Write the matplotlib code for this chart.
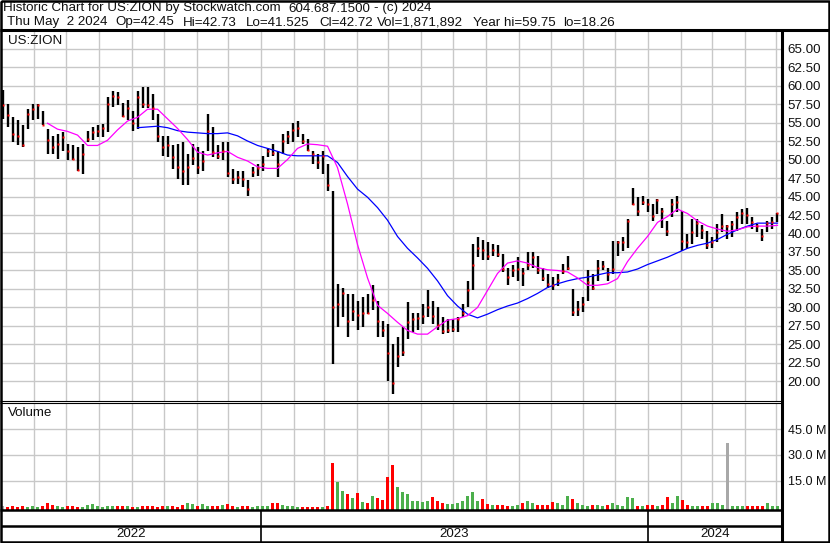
import numpy as np
import pandas as pd
import matplotlib
matplotlib.use("Agg")
import matplotlib.pyplot as plt
import matplotlib.dates as mdates
from matplotlib.ticker import FixedLocator, FuncFormatter

plt.rcParams['font.family'] = ['Liberation Sans', 'DejaVu Sans']

nan = np.nan

symbol = "US:ZION"
# header pieces and their left edges (px) as laid out on the original chart
header_1 = [("Historic Chart for US:ZION by Stockwatch.com", 3), ("604.687.1500", 288), ("- (c) 2024", 374)]
header_2 = [("Thu May  2 2024", 7), ("Op=42.45", 115), ("Hi=42.73", 183), ("Lo=41.525", 246),
            ("Cl=42.72", 319), ("Vol=1,871,892", 377), ("Year hi=59.75", 473), ("lo=18.26", 563)]

# price bars, roughly one bar per 3 trading days, May 2 2022 -> May 2 2024
high = [59.4, 57.5, 55.7, 55.3, 54.6, 56.8, 57.5, 57.5, 56.6, 54.1,
        53.2, 53.5, 53.7, 52.1, 51.9, 51.7, 52.1, 53.9, 54.4, 54.6,
        54.8, 58.5, 59.3, 59.1, 57.7, 58.0, 56.6, 59.3, 59.8, 59.75,
        58.9, 56.2, 53.2, 53.2, 51.9, 52.1, 52.3, 50.8, 52.1, 51.7,
        51.2, 56.2, 54.4, 51.9, 52.3, 52.3, 48.7, 48.5, 48.5, 47.2,
        49.0, 49.4, 50.5, 51.6, 52.1, 51.2, 53.4, 53.9, 55.0, 55.2,
        53.4, 52.8, 51.2, 50.7, 51.2, 49.4, 45.8, 33.2, 32.7, 31.8,
        31.8, 30.9, 31.4, 31.8, 33.0, 30.9, 28.2, 27.8, 25.1, 26.0,
        27.3, 30.7, 29.2, 29.2, 30.5, 32.3, 30.9, 30.0, 28.7, 28.5,
        28.5, 28.7, 30.5, 33.6, 38.6, 39.5, 39.1, 38.8, 38.6, 38.4,
        37.2, 35.4, 35.7, 36.8, 35.4, 37.5, 37.5, 37.0, 35.4, 34.5,
        34.1, 34.5, 35.9, 37.0, 32.5, 30.9, 31.4, 35.0, 34.5, 36.4,
        36.3, 35.4, 39.0, 39.0, 39.5, 42.0, 46.2, 44.9, 45.1, 44.7,
        44.0, 44.7, 43.5, 41.7, 44.7, 45.1, 43.1, 39.9, 42.0, 42.0,
        41.1, 40.4, 39.5, 41.3, 42.6, 41.1, 41.7, 42.9, 43.3, 43.5,
        42.2, 41.3, 40.6, 41.7, 42.2, 42.73]
low = [55.5, 54.4, 52.3, 51.9, 51.7, 54.1, 55.3, 55.5, 54.6, 50.8,
       50.8, 50.1, 51.2, 49.9, 49.9, 48.5, 48.1, 52.3, 52.6, 53.0,
       53.0, 53.7, 57.1, 57.3, 55.7, 55.3, 53.9, 54.1, 57.0, 57.0,
       55.3, 52.3, 50.5, 50.3, 48.7, 47.4, 46.5, 46.5, 49.2, 48.1,
       48.5, 51.2, 50.3, 50.1, 49.9, 47.6, 46.7, 46.7, 46.3, 45.1,
       47.6, 47.8, 48.5, 50.3, 50.5, 47.6, 50.7, 52.1, 52.3, 53.0,
       52.1, 51.2, 49.4, 48.7, 48.0, 45.8, 22.4, 27.3, 28.7, 26.0,
       28.2, 26.9, 27.3, 29.1, 29.6, 26.0, 26.0, 20.1, 18.26, 21.9,
       23.5, 25.8, 26.7, 26.9, 27.8, 28.7, 27.8, 26.9, 26.4, 26.5,
       26.7, 26.7, 28.7, 30.0, 32.3, 36.8, 36.4, 36.4, 37.0, 36.8,
       34.8, 33.0, 34.1, 33.6, 32.9, 35.0, 35.4, 34.5, 33.6, 32.7,
       32.3, 32.9, 34.5, 35.0, 28.9, 28.9, 29.4, 30.9, 32.3, 33.6,
       35.0, 33.6, 34.5, 37.0, 37.7, 38.0, 43.8, 42.4, 43.8, 42.9,
       41.7, 42.6, 40.8, 39.7, 42.2, 42.9, 37.7, 37.9, 38.6, 39.5,
       39.3, 37.9, 38.1, 38.8, 40.2, 39.3, 39.5, 40.4, 41.3, 41.3,
       40.6, 40.2, 39.0, 40.2, 40.6, 41.525]
close = [57.4, 56.0, 53.5, 53.2, 52.0, 56.2, 56.8, 57.3, 54.7, 52.7,
         51.7, 52.1, 53.0, 51.2, 50.1, 48.6, 50.8, 52.8, 53.7, 53.9,
         54.2, 57.5, 58.6, 58.4, 55.9, 57.0, 55.0, 58.5, 57.5, 57.3,
         57.0, 53.2, 51.7, 52.0, 50.3, 49.0, 48.5, 49.0, 50.2, 49.0,
         49.8, 53.9, 51.0, 50.5, 51.2, 48.2, 47.4, 47.6, 47.4, 46.0,
         48.3, 48.8, 49.4, 51.1, 50.9, 49.4, 52.5, 53.2, 54.0, 54.3,
         52.5, 51.3, 50.8, 49.6, 50.5, 46.5, 30.0, 30.5, 32.0, 28.2,
         29.5, 29.0, 29.3, 29.2, 31.0, 28.2, 27.0, 23.8, 19.8, 23.5,
         24.0, 28.0, 28.4, 28.6, 28.9, 30.0, 28.9, 27.6, 26.8, 27.0,
         27.1, 28.5, 29.2, 32.3, 35.7, 38.0, 37.8, 37.0, 37.8, 37.2,
         35.2, 34.1, 35.0, 35.2, 34.7, 35.8, 36.8, 35.0, 34.0, 33.2,
         33.0, 33.7, 34.9, 35.4, 29.4, 29.8, 30.5, 33.5, 32.6, 35.3,
         35.6, 34.5, 35.2, 38.8, 38.9, 41.7, 44.0, 43.1, 44.2, 44.0,
         42.4, 44.5, 43.1, 40.4, 44.0, 44.2, 39.0, 38.8, 40.2, 41.4,
         40.5, 38.4, 38.9, 40.2, 41.0, 41.0, 41.3, 42.2, 42.8, 42.5,
         41.5, 41.0, 39.6, 41.4, 41.6, 42.72]
# volume in millions, per bar
volume = [2.0, 1.5, 1.8, 1.6, 2.2, 1.7, 2.0, 1.5, 1.8, 3.5,
          2.5, 2.0, 1.6, 1.8, 2.2, 1.5, 1.7, 2.6, 3.0, 2.0,
          1.5, 1.8, 2.0, 1.9, 2.2, 2.0, 1.7, 1.6, 1.8, 2.0,
          2.2, 1.6, 1.8, 2.0, 1.9, 1.5, 2.5, 4.0, 3.0, 2.0,
          3.0, 2.2, 2.0, 1.8, 2.5, 3.0, 2.0, 1.6, 1.8, 2.0,
          1.7, 1.8, 1.8, 2.0, 3.5, 4.0, 2.5, 1.8, 2.0, 1.6,
          1.5, 1.2, 1.3, 1.5, 1.5, 2.0, 27.0, 16.0, 10.5, 9.0,
          6.5, 9.5, 4.5, 4.0, 8.0, 6.5, 5.5, 19.0, 26.0, 13.0,
          10.0, 9.0, 5.0, 5.0, 4.5, 5.0, 7.0, 5.0, 3.5, 3.0,
          3.0, 4.0, 5.0, 8.0, 10.0, 5.0, 6.0, 3.0, 2.7, 2.5,
          2.7, 2.2, 2.2, 2.7, 4.0, 5.0, 4.0, 2.7, 2.5, 2.7,
          4.5, 3.5, 2.7, 8.0, 6.0, 3.5, 2.7, 2.2, 2.7, 2.5,
          2.0, 2.5, 4.0, 2.5, 2.0, 7.0, 6.5, 2.0, 1.8, 2.5,
          2.7, 2.0, 2.5, 7.0, 3.5, 8.0, 5.5, 2.7, 2.3, 2.0,
          2.3, 2.0, 3.5, 3.5, 2.7, 38.7, 2.0, 2.0, 2.0, 2.0,
          2.3, 2.0, 2.3, 3.5, 2.3, 2.2]
# moving averages, read at every second bar (bars 1, 3, 5, ...)
ma_pink = [nan, nan, nan, nan, 54.9, 54.1, 53.8, 53.3, 51.9, 51.9,
           52.6, 54.0, 55.2, 55.7, 56.8, 56.8, 55.5, 54.2, 52.7, 51.0,
           50.6, 50.9, 51.1, 50.3, 49.8, 49.0, 48.8, 48.8, 50.0, 51.5,
           52.1, 52.0, 51.8, 48.9, 44.0, 38.5, 34.0, 30.3, 29.2, 28.0,
           26.9, 26.4, 26.4, 27.4, 28.3, 28.5, 28.9, 30.0, 32.3, 34.6,
           36.0, 36.3, 36.0, 35.4, 35.1, 35.0, 34.8, 34.0, 33.0, 33.0,
           33.2, 33.9, 36.2, 38.0, 39.6, 41.5, 42.3, 43.3, 42.7, 41.7,
           41.0, 40.6, 40.3, 40.5, 40.9, 41.0, 41.0, 41.1]
ma_blue = [nan, nan, nan, nan, nan, nan, nan, nan, nan, nan,
           nan, nan, nan, 54.3, 54.4, 54.5, 54.3, 53.9, 53.7, 53.6,
           53.5, 53.5, 53.6, 53.2, 52.5, 51.9, 51.5, 51.1, 50.6, 50.5,
           50.5, 50.5, 50.5, 49.6, 47.7, 46.0, 44.9, 43.5, 41.8, 39.6,
           38.0, 36.7, 35.3, 33.6, 31.6, 30.2, 29.1, 28.6, 29.1, 29.7,
           30.2, 30.6, 31.2, 31.9, 32.7, 33.2, 33.6, 33.9, 34.1, 34.4,
           34.7, 34.7, 34.8, 35.2, 35.8, 36.3, 36.8, 37.4, 38.0, 38.4,
           38.7, 39.2, 39.9, 40.5, 41.0, 41.4, 41.4, 41.4]

price_ticks = np.arange(20, 65.01, 2.5)
vol_ticks = [15, 30, 45]
years = [2022, 2023, 2024]

dates = pd.date_range("2022-05-02", "2024-05-02", periods=len(close))
ma_dates = dates[1::2]
x_start = pd.Timestamp("2022-05-01 12:00")
x_end = pd.Timestamp("2024-05-06 06:00")
vol_floor = -1.7

W, H = 830, 543
FS = 9.6
TXT = "#101010"
fig = plt.figure(figsize=(W / 100, H / 100), dpi=100)
fig.patch.set_facecolor("white")


def box(l, t, r, b):
    return [l / W, 1 - b / H, (r - l) / W, (b - t) / H]


ax = fig.add_axes(box(2, 31.5, 782, 400.5))
axv = fig.add_axes(box(2, 402.5, 782, 509.5))
axy = fig.add_axes(box(2, 510, 782, 542))

for a in (ax, axv, axy):
    a.set_xlim(x_start, x_end)
    for s in a.spines.values():
        s.set_visible(False)

for a in (ax, axv):
    a.xaxis.set_major_locator(mdates.MonthLocator())
    a.grid(True, color="#c8c8c8", lw=1.0)
    a.set_axisbelow(True)
    a.tick_params(axis="x", length=0, labelbottom=False)
    a.yaxis.tick_right()
    a.tick_params(axis="y", length=0, pad=4, labelsize=FS, labelcolor=TXT)
axv.tick_params(axis="y", labelsize=9.1)

# price panel
ax.set_ylim(17.43, 67.3)
ax.yaxis.set_major_locator(FixedLocator(price_ticks))
ax.yaxis.set_major_formatter(FuncFormatter(lambda v, p: f"{v:.2f}"))
ax.vlines(dates, low, high, color="black", lw=1.7, zorder=2)
ax.plot(ma_dates, ma_blue, color="#0000ff", lw=0.9, zorder=3)
ax.plot(ma_dates, ma_pink, color="#ff00ff", lw=0.9, zorder=3)
ax.plot(dates, close, ls="none", marker="s", ms=2.0, mfc="red", mec="none", zorder=4)

# volume panel
chg = np.diff(np.array(close), prepend=nan)
colors = np.where(chg > 0, "#4caf4c", np.where(chg < 0, "#ff0000", "#a8a8a8"))
axv.bar(dates, volume, width=pd.Timedelta(days=3.6), bottom=vol_floor, color=colors, zorder=2)
axv.set_ylim(vol_floor, 60.4)
axv.yaxis.set_major_locator(FixedLocator(vol_ticks))
axv.yaxis.set_major_formatter(FuncFormatter(lambda v, p: f"{v:.1f} M"))

# year strip
axy.set_ylim(0, 1)
axy.set_xticks([])
axy.set_yticks([])
axy.axhline(0.5, color="black", lw=1.8)
for yr in years:
    a0 = max(pd.Timestamp(f"{yr}-01-01"), x_start)
    a1 = min(pd.Timestamp(f"{yr + 1}-01-01"), x_end)
    if yr > years[0]:
        axy.axvline(pd.Timestamp(f"{yr}-01-01"), color="black", lw=1.2)
    axy.text(a0 + (a1 - a0) / 2, 0.24, str(yr), ha="center", va="center", fontsize=FS, color=TXT)

# frame, header and panel titles
frame = fig.add_axes([0, 0, 1, 1], zorder=10)
frame.set_xlim(0, W)
frame.set_ylim(H, 0)
frame.axis("off")
frame.patch.set_alpha(0)
k = dict(color="black", solid_capstyle="butt")
frame.plot([1, 829, 829, 1, 1], [1, 1, 542, 542, 1], lw=1.8, **k)
frame.plot([0, W], [30, 30], lw=2.2, **k)
frame.plot([782, 782], [30, 542], lw=2.2, **k)
frame.plot([0, 782], [400.5, 400.5], lw=0.8, **k)
frame.plot([0, 782], [402.5, 402.5], lw=0.8, **k)
frame.plot([0, 782], [510, 510], lw=1.8, **k)

for txt, x in header_1:
    frame.text(x, 8.5, txt, ha="left", va="center", fontsize=FS, color=TXT)
for txt, x in header_2:
    frame.text(x, 22.5, txt, ha="left", va="center", fontsize=FS, color=TXT)
frame.text(8, 41.5, symbol, ha="left", va="center", fontsize=FS, color=TXT)
frame.text(8, 413.5, "Volume", ha="left", va="center", fontsize=FS, color=TXT)

fig.savefig("out.png", dpi=100)
